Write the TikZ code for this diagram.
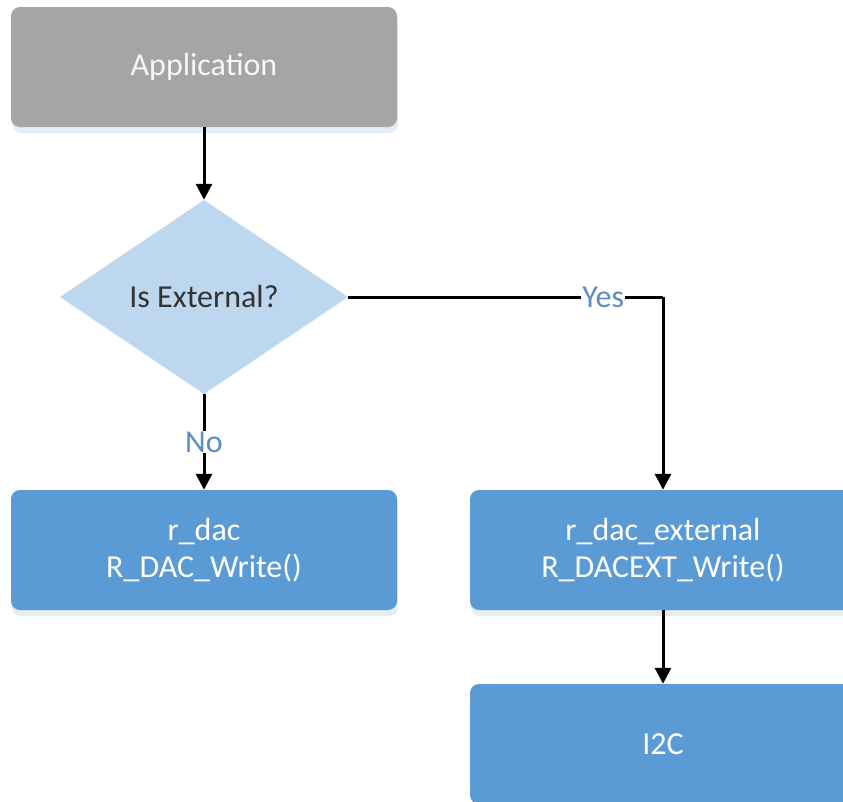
\documentclass[tikz,border=0pt]{standalone}
\usepackage{fontspec}
\setmainfont{Carlito}
\usetikzlibrary{arrows.meta,shapes.geometric}
\definecolor{appgray}{HTML}{A5A5A5}
\definecolor{decblue}{HTML}{BDD7EE}
\definecolor{boxblue}{HTML}{5B9BD5}
\definecolor{lblblue}{HTML}{5E8CC4}
\definecolor{shadowc}{HTML}{E4ECF4}
\tikzset{
  x=1pt, y=-1pt,
  every node/.style={font=\fontsize{32}{37}\selectfont},
  blockbox/.style={rectangle, rounded corners=9pt, minimum width=386pt,
    minimum height=120pt, inner sep=0pt, align=center, text=white},
  softshadow/.style={fill=shadowc, rounded corners=9pt},
  flow/.style={line width=3pt, draw=black,
    -{Triangle[width=16pt,length=16pt]}},
  flowline/.style={line width=3pt, draw=black},
  choice/.style={fill=white, text=lblblue, inner sep=1pt},
}
\begin{document}
\begin{tikzpicture}
\clip (0,0) rectangle (843,801);
\fill[white] (0,0) rectangle (843,801);
% faint shadows under the boxes
\fill[softshadow] (12,12) rectangle (398,133);
\fill[softshadow] (12,495) rectangle (398,616);
\fill[softshadow] (471,495) rectangle (858,616);
% blocks
\node[blockbox, fill=appgray, text=white!94!gray] (app) at (204,67) {Application};
\node[diamond, fill=decblue, minimum width=288pt, minimum height=194pt,
      inner sep=0pt, text=black!80] (ext) at (204,297) {Is External?};
\node[blockbox, fill=boxblue] (dac) at (204,550) {r\_dac\\R\_DAC\_Write()};
\node[blockbox, fill=boxblue] (dacext) at (663,550) {r\_dac\_external\\R\_DACEXT\_Write()};
\node[blockbox, fill=boxblue] (iic) at (663,744) {I2C};
% connectors
\draw[flow] (app.south) -- (ext.north);
\draw[flow] (ext.south) -- node[choice] (no) {No} (dac.north);
\draw[flowline] (ext.east) -- node[choice, pos=0.81] (yes) {Yes} (ext.east -| dacext.north);
\draw[flow] (ext.east -| dacext.north) -- (dacext.north);
\draw[flow] (dacext.south) -- (iic.north);
\end{tikzpicture}
\end{document}
